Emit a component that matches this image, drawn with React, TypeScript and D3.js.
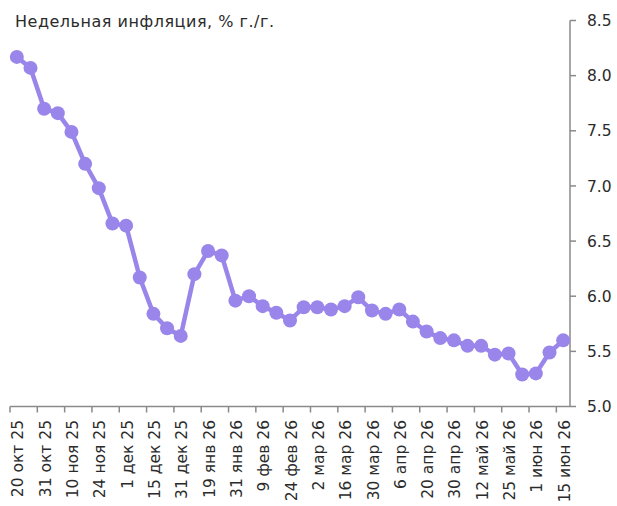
import React from "react";
import * as d3 from "d3";

const title = "Недельная инфляция, % г./г.";
const values = [
  8.17, 8.07, 7.7, 7.66, 7.49, 7.2, 6.98, 6.66, 6.64, 6.17, 5.84, 5.71, 5.64, 6.2,
  6.41, 6.37, 5.96, 6.0, 5.91, 5.85, 5.78, 5.9, 5.9, 5.88, 5.91, 5.99, 5.87, 5.84,
  5.88, 5.77, 5.68, 5.62, 5.6, 5.55, 5.55, 5.47, 5.48, 5.29, 5.3, 5.49, 5.6,
];
const tickLabels = [
  "20 окт 25", "31 окт 25", "10 ноя 25", "24 ноя 25", "1 дек 25", "15 дек 25",
  "31 дек 25", "19 янв 26", "31 янв 26", "9 фев 26", "24 фев 26", "2 мар 26",
  "16 мар 26", "30 мар 26", "6 апр 26", "20 апр 26", "30 апр 26", "12 май 26",
  "25 май 26", "1 июн 26", "15 июн 26",
];
const yTicks = [5.0, 5.5, 6.0, 6.5, 7.0, 7.5, 8.0, 8.5];

const W = 617;
const H = 506;
const left = 10;
const right = 570;
const top = 20.5;
const bottom = 406.5;
const FONT = "'DejaVu Sans', sans-serif";
const AXIS = "#8a8a8a";
const TEXT = "#2b2b2b";
const LINE = "#9a86ea";

export default function App() {
  const x = d3
    .scaleBand<number>()
    .domain(d3.range(values.length))
    .range([left, right])
    .paddingInner(0)
    .paddingOuter(0);
  const y = d3.scaleLinear().domain([5, 8.5]).range([bottom, top]);
  const cx = (i: number) => (x(i) as number) + x.bandwidth() / 2;
  const line = d3
    .line<number>()
    .x((_, i) => cx(i))
    .y((d) => y(d));

  const tickIdx = d3.range(0, values.length, 2);

  return (
    <svg
      width={W}
      height={H}
      style={{ position: "absolute", left: 0, top: 0 }}
      fontFamily={FONT}
    >
      <rect width={W} height={H} fill="#fff" />
      <text x={15} y={26.5} fontSize={16} fill={TEXT} textLength={259} lengthAdjust="spacing">
        {title}
      </text>
      {/* y axis */}
      <line x1={right} x2={right} y1={top} y2={bottom} stroke={AXIS} strokeWidth={1.5} />
      {yTicks.map((t) => (
        <g key={t}>
          <line x1={right} x2={right + 6} y1={y(t)} y2={y(t)} stroke={AXIS} strokeWidth={1.5} />
          <text x={587} y={y(t)} dy="0.36em" fontSize={15.5} fill={TEXT}>
            {t.toFixed(1)}
          </text>
        </g>
      ))}
      {/* x axis */}
      <line x1={left} x2={right} y1={bottom} y2={bottom} stroke={AXIS} strokeWidth={1.5} />
      {tickIdx.map((i) => (
        <line
          key={"t" + i}
          x1={x(i) as number}
          x2={x(i) as number}
          y1={bottom}
          y2={bottom + 6}
          stroke={AXIS}
          strokeWidth={1.5}
        />
      ))}
      {tickIdx.map((i, k) => (
        <text
          key={"l" + i}
          transform={`translate(${cx(i) + 1},${420}) rotate(-90)`}
          textAnchor="end"
          dy="0.36em"
          fontSize={15.5}
          fill={TEXT}
        >
          {tickLabels[k]}
        </text>
      ))}
      <path d={line(values) as string} fill="none" stroke={LINE} strokeWidth={4.5} strokeLinejoin="round" />
      {values.map((v, i) => (
        <circle key={i} cx={cx(i)} cy={y(v)} r={7} fill={LINE} />
      ))}
    </svg>
  );
}
